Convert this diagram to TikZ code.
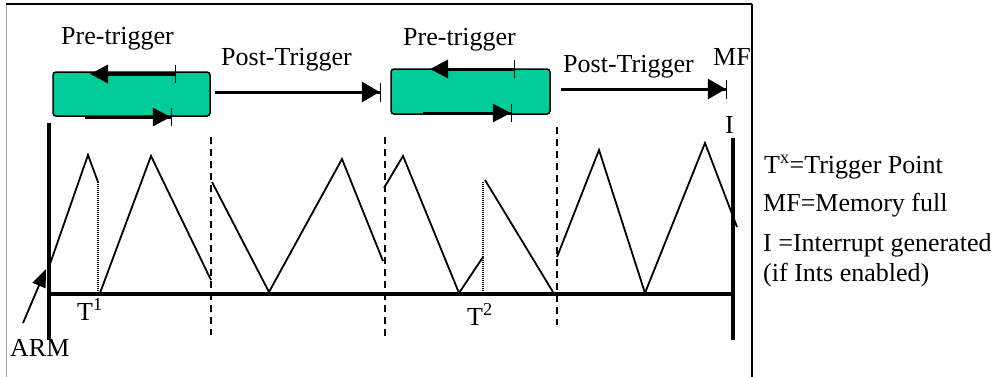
\documentclass[tikz,border=0pt]{standalone}
\usepackage{fontspec}
\setmainfont{Liberation Serif}
\usetikzlibrary{arrows.meta}
\definecolor{boxgreen}{RGB}{0,204,153}
\begin{document}
\begin{tikzpicture}[x=1pt,y=-1pt,
  lbl/.style={inner sep=0pt, anchor=base west, font=\fontsize{26}{30}\selectfont},
  bufbox/.style={draw=black, line width=1.5pt, fill=boxgreen, rounded corners=3pt, inner sep=0pt},
  wave/.style={line width=1.8pt, line join=miter},
  axisline/.style={line width=4pt},
  divider/.style={line width=1.8pt, dash pattern=on 7pt off 5pt},
  trigline/.style={line width=2.2pt, dash pattern=on 1.2pt off 0.8pt},
  flowarrow/.style={line width=3pt, -{Triangle[length=18pt,width=20pt] Bar[width=19pt,line width=1.2pt]}},
  fwdarrow/.style={line width=3pt, -{Triangle[length=18pt,width=18pt] Bar[width=18pt,line width=1.2pt]}},
  backarrow/.style={line width=3pt, {Bar[width=18pt,line width=1.2pt]}-{Triangle[length=18pt,width=18pt]}},
  armarrow/.style={line width=1.8pt, -{Triangle[length=18pt,width=14pt]}}
]
\useasboundingbox (0,0) rectangle (994,376);
% frame
\draw[gray!70, line width=1pt] (6,4) -- (6,380);
\draw[black, line width=1.3pt] (6,4) -- (752,4);
\draw[black, line width=1.5pt] (752,4) -- (752,380);

% buffer boxes
\node[bufbox, minimum width=157pt, minimum height=44pt] (b1) at (131.5,94) {};
\node[bufbox, minimum width=159pt, minimum height=45pt] (b2) at (470.5,91.5) {};

% coordinates for arrows
\coordinate (b1ts) at (176,74);  \coordinate (b1te) at (90,74);
\coordinate (b1bs) at (85,117);  \coordinate (b1be) at (172,117);
\coordinate (b2ts) at (515,69);  \coordinate (b2te) at (430,69);
\coordinate (b2bs) at (423,113); \coordinate (b2be) at (512,113);
\coordinate (p1s) at (215,92);   \coordinate (p1e) at (381,92);
\coordinate (p2s) at (561,89);   \coordinate (p2e) at (727,89);

\draw[backarrow] (b1ts) -- (b1te);
\draw[fwdarrow] (b1bs) -- (b1be);
\draw[backarrow] (b2ts) -- (b2te);
\draw[fwdarrow] (b2bs) -- (b2be);
\draw[flowarrow] (p1s) -- (p1e);
\draw[flowarrow] (p2s) -- (p2e);

% labels
\node[lbl] (pre1) at (61,44) {Pre-trigger};
\node[lbl] (post1) at (221,65) {Post-Trigger};
\node[lbl] (pre2) at (403,45) {Pre-trigger};
\node[lbl] (post2) at (563,72) {Post-Trigger};
\node[lbl] (mf) at (713,65) {MF};
\node[lbl] (intr) at (725,133) {I};
\node[lbl] (t1) at (77,320) {T\textsuperscript{1}};
\node[lbl] (t2) at (467,325) {T\textsuperscript{2}};
\node[lbl] (arm) at (10,356) {ARM};

% legend
\node[lbl] (lg1) at (764,173) {T\textsuperscript{x}=Trigger Point};
\node[lbl] (lg2) at (763,211) {MF=Memory full};
\node[lbl] (lg3) at (763,251) {I =Interrupt generated};
\node[lbl] (lg4) at (763,281) {(if Ints enabled)};

% axes
\draw[axisline] (49,123) -- (49,340);
\draw[axisline] (733,138) -- (733,340);
\draw[axisline] (47,294) -- (735,294);

% dividers
\draw[divider] (211,137) -- (211,335);
\draw[divider] (385,137) -- (385,337);
\draw[divider] (557,127) -- (557,325);

% waveform
\draw[wave] (50,264) -- (88,155) -- (98,182);
\draw[trigline] (98,182) -- (98,293);
\draw[wave] (100,293) -- (151,156) -- (211,280);
\draw[wave] (212,182) -- (269,292) -- (342,159) -- (383,261);
\draw[wave] (384,188) -- (403,156) -- (459,293) -- (483,257);
\draw[trigline] (483,182) -- (483,293);
\draw[wave] (485,180) -- (553,292);
\draw[wave] (557,257) -- (599,150) -- (645,293) -- (705,143) -- (737,227);

% ARM arrow
\coordinate (armfoot) at (23,323);
\coordinate (armtip) at (46,269);
\draw[armarrow] (armfoot) -- (armtip);
\end{tikzpicture}
\end{document}
